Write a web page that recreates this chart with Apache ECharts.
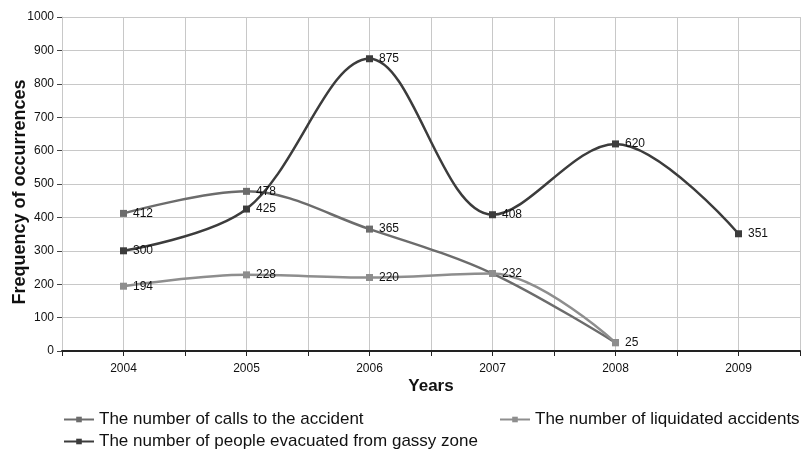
<!DOCTYPE html>
<html><head><meta charset="utf-8">
<script src="https://cdn.jsdelivr.net/npm/echarts@6/dist/echarts.min.js"></script>
<style>html,body{margin:0;padding:0;background:#fff}#c{width:801px;height:451px}</style>
</head><body><div id="c"></div>
<script>
const years = [2004, 2005, 2006, 2007, 2008, 2009];
const callsName = 'The number of calls to the accident';
const liquidatedName = 'The number of liquidated accidents';
const evacuatedName = 'The number of people evacuated from gassy zone';
const calls = [412, 478, 365, 232, 25];
const liquidated = [194, 228, 220, 232, 25];
const evacuated = [300, 425, 875, 408, 620, 351];
const yTicks = [0, 100, 200, 300, 400, 500, 600, 700, 800, 900, 1000];

const font = 'Liberation Sans, Arial, sans-serif';
function pairs(vals){ return vals.map((v,i)=>[years[i], v]); }
function series(name, vals, color, showLabelIdx){
  return {
    name, type:'line', data: pairs(vals), smooth: 0.35,
    symbol:'rect', symbolSize:7, showSymbol:true,
    lineStyle:{color, width:2.5}, itemStyle:{color},
    label:{show:true, position:'right', distance:6, color:'#111', fontFamily:font, fontSize:12,
      formatter: p => (showLabelIdx === null || showLabelIdx.includes(p.dataIndex)) ? p.value[1] : ''},
    z: 3
  };
}
const chart = echarts.init(document.getElementById('c'), null, {renderer:'canvas'});
chart.setOption({
  animation:false,
  backgroundColor:'#fff',
  grid:{left:62, right:1, top:17, bottom:100, containLabel:false, outerBoundsMode:'none'},
  xAxis:{
    type:'value', min:2003.5, max:2009.5, interval:0.5,
    name:'Years', nameLocation:'middle', nameGap:27, nameMoveOverlap:false,
    nameTextStyle:{fontFamily:font, fontSize:17, fontWeight:'bold', color:'#111'},
    axisLine:{show:true, onZero:false, lineStyle:{color:'#222', width:2}},
    axisTick:{show:true, length:5, lineStyle:{color:'#222', width:1}},
    axisLabel:{fontFamily:font, fontSize:12, color:'#111', margin:12,
      formatter: v => Number.isInteger(v) && years.includes(v) ? String(v) : ''},
    splitLine:{show:true, lineStyle:{color:'#c8c8c8', width:1}}
  },
  yAxis:{
    type:'value', min:yTicks[0], max:yTicks[yTicks.length-1], interval:100,
    name:'Frequency of occurrences', nameLocation:'middle', nameGap:33, nameRotate:90, nameMoveOverlap:false,
    nameTextStyle:{fontFamily:font, fontSize:18, fontWeight:'bold', color:'#111', padding:[0,16,0,0]},
    axisLine:{show:true, lineStyle:{color:'#c8c8c8', width:1}},
    axisTick:{show:true, length:5, lineStyle:{color:'#444'}},
    axisLabel:{fontFamily:font, fontSize:12, color:'#111', margin:8, formatter: v => String(v)},
    splitLine:{show:true, lineStyle:{color:'#c8c8c8', width:1}}
  },
  legend:[
    {data:[callsName], left:58, top:406, itemWidth:30, itemHeight:7, itemGap:10,
     textStyle:{fontFamily:font, fontSize:17, color:'#111'}},
    {data:[liquidatedName], left:494, top:406, itemWidth:30, itemHeight:7,
     textStyle:{fontFamily:font, fontSize:17, color:'#111'}},
    {data:[evacuatedName], left:58, top:428, itemWidth:30, itemHeight:7,
     textStyle:{fontFamily:font, fontSize:17, color:'#111'}}
  ],
  series:[
    series(callsName, calls, '#6c6c6c', [0,1,2]),
    series(liquidatedName, liquidated, '#8e8e8e', null),
    series(evacuatedName, evacuated, '#3c3c3c', null)
  ]
});
</script></body></html>
